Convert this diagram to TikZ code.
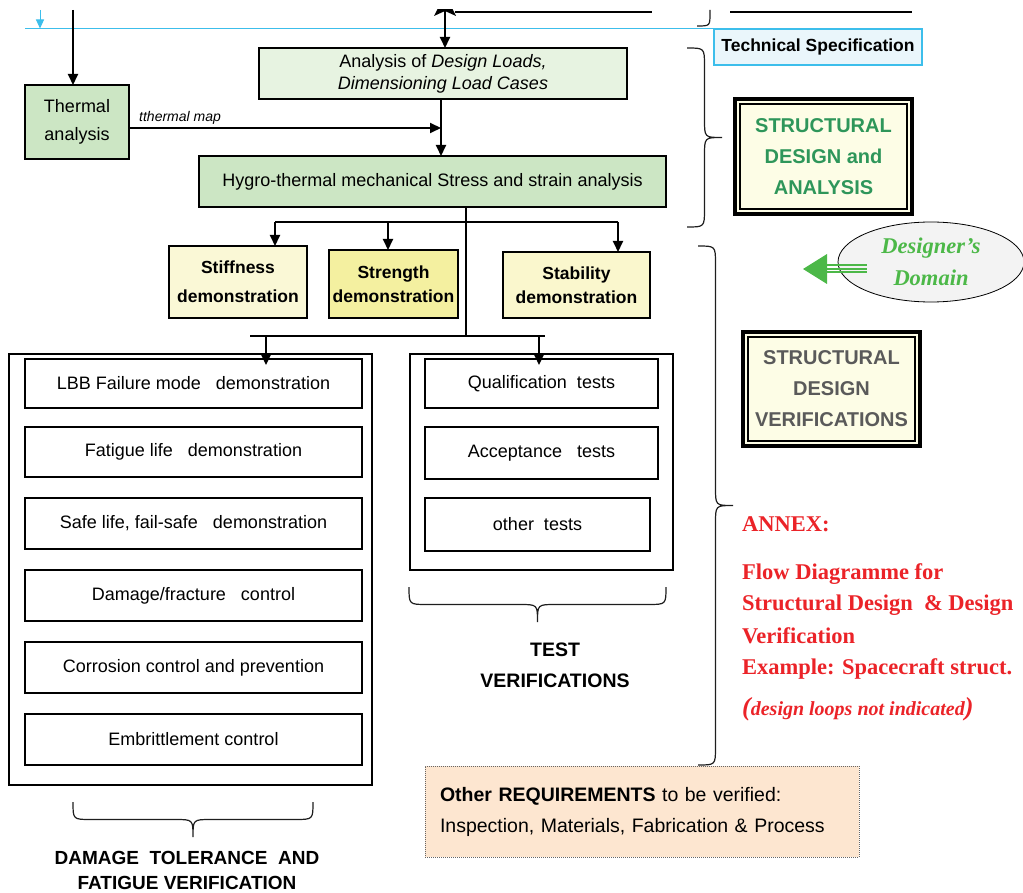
\documentclass[tikz,border=0pt]{standalone}
\usepackage{fontspec}
\setmainfont{Liberation Sans}
\newfontfamily\tnr{Liberation Serif}
\usetikzlibrary{arrows.meta,shapes.geometric,calc}
\definecolor{thermg}{RGB}{204,230,196}
\definecolor{analg}{RGB}{231,243,225}
\definecolor{stiffy}{RGB}{250,248,214}
\definecolor{streny}{RGB}{244,240,160}
\definecolor{staby}{RGB}{250,247,205}
\definecolor{techfill}{RGB}{234,246,251}
\definecolor{techcyan}{RGB}{60,190,235}
\definecolor{boxy}{RGB}{253,253,230}
\definecolor{sdagreen}{RGB}{46,150,90}
\definecolor{sdvgray}{RGB}{90,90,90}
\definecolor{desgreen}{RGB}{76,184,72}
\definecolor{ellfill}{RGB}{243,243,243}
\definecolor{annexred}{RGB}{235,35,40}
\definecolor{reqfill}{RGB}{253,230,208}
\definecolor{brc}{RGB}{30,30,30}
\newcommand{\RBrace}[4]{%
 \draw[bracestyle] (#1,#3) .. controls ({(#1+#2)/2},#3) .. ({(#1+#2)/2},{#3+18}) -- ({(#1+#2)/2},{(#3+#4)/2-18}) .. controls ({(#1+#2)/2},{(#3+#4)/2}) .. (#2,{(#3+#4)/2}) .. controls ({(#1+#2)/2},{(#3+#4)/2}) .. ({(#1+#2)/2},{(#3+#4)/2+18}) -- ({(#1+#2)/2},{#4-18}) .. controls ({(#1+#2)/2},#4) .. (#1,#4);}
\newcommand{\DBrace}[4]{%
 \draw[bracestyle] (#1,#3) .. controls (#1,{(#3+#4)/2}) .. ({#1+18},{(#3+#4)/2}) -- ({(#1+#2)/2-18},{(#3+#4)/2}) .. controls ({(#1+#2)/2},{(#3+#4)/2}) .. ({(#1+#2)/2},#4) .. controls ({(#1+#2)/2},{(#3+#4)/2}) .. ({(#1+#2)/2+18},{(#3+#4)/2}) -- ({#2-18},{(#3+#4)/2}) .. controls (#2,{(#3+#4)/2}) .. (#2,#3);}
\begin{document}
\begin{tikzpicture}[x=1pt,y=-1pt,
  box/.style={draw=black, line width=1.2pt, inner sep=0pt, outer sep=0pt, align=center},
  plain/.style={font=\fontsize{18}{22}\selectfont},
  demo/.style={box, font=\bfseries\fontsize{17.5}{24}\selectfont},
  listbox/.style={box, minimum width=337pt, font=\fontsize{18}{22}\selectfont},
  testbox/.style={box, font=\fontsize{18}{22}\selectfont},
  arr/.style={-{Triangle[length=11pt,width=10pt]}, line width=2pt},
  ln/.style={line width=1.4pt},
  bracestyle/.style={draw=brc, line width=1.2pt},
  dblbox/.style={draw=black, fill=boxy, line width=3.5pt, inner sep=0pt, outer sep=0pt, align=center, font=\bfseries\fontsize{20}{31}\selectfont},
  annex/.style={anchor=west, inner sep=0pt, text=annexred, font=\tnr\bfseries\fontsize{22.5}{26}\selectfont},
  caption/.style={align=center, inner sep=0pt, font=\bfseries\fontsize{19.5}{31}\selectfont},
]
\useasboundingbox (0,0) rectangle (1023,893);

% ---- top fragments
\coordinate (ca1) at (40,10);
\coordinate (ca2) at (40,28.5);
\draw[techcyan, line width=1pt, -{Triangle[length=9pt,width=8pt]}] (ca1) -- (ca2);
\coordinate (f1) at (455,12);
\coordinate (f2) at (652,12);
\draw[line width=1.3pt] (f1) -- (f2);
\coordinate (f3) at (730,12);
\coordinate (f4) at (912,12);
\draw[line width=1.3pt] (f3) -- (f4);
\begin{scope}
\clip (0,10) rectangle (1023,893);
\fill (434,16) -- (445,-6) -- (456,16) -- (445,11) -- cycle;
\end{scope}
\draw[bracestyle] (710,10) -- (710,13) .. controls (710,26) .. (697,26);

% ---- technical specification & cyan line
\node[draw=techcyan, line width=1.2pt, fill=techfill, minimum width=208pt, minimum height=36pt, inner sep=0pt, outer sep=0pt, font=\bfseries\fontsize{17.5}{20}\selectfont] (tech) at (818,47) {Technical Specification};
\coordinate (cl) at (25,29);
\draw[techcyan, line width=1pt] (cl) -- (tech.north west);

% ---- upper nodes
\node[box, fill=thermg, minimum width=104pt, minimum height=74pt, font=\fontsize{18}{28}\selectfont] (therm) at (77,122) {Thermal\\analysis};
\node[box, fill=analg, minimum width=368pt, minimum height=51pt, font=\fontsize{18}{22}\selectfont] (anal) at (443,73.5) {Analysis of \textit{Design Loads,}\\\textit{Dimensioning Load Cases}};
\node[box, fill=thermg, minimum width=467pt, minimum height=51pt, plain] (hygro) at (432.5,181.5) {Hygro-thermal mechanical Stress and strain analysis};

\node[demo, fill=stiffy, minimum width=138pt, minimum height=72pt, font=\bfseries\fontsize{17.5}{29}\selectfont] (stiff) at (238,282) {Stiffness\\demonstration};
\node[demo, fill=streny, minimum width=129pt, minimum height=68pt] (stren) at (393.5,284) {Strength\\demonstration};
\node[demo, fill=staby, minimum width=147pt, minimum height=66pt] (stab) at (576.5,285) {Stability\\demonstration};

% ---- left column
\node[box, minimum width=363pt, minimum height=431pt] (lout) at (190.5,569.5) {};
\node[listbox, minimum height=49pt] (lbb) at (193.5,383.5) {LBB Failure mode~~ demonstration};
\node[listbox, minimum height=50pt] (fat) at (193.5,452) {Fatigue life~~ demonstration};
\node[listbox, minimum height=51pt] (safe) at (193.5,523.5) {Safe life, fail-safe~~ demonstration};
\node[listbox, minimum height=51pt] (dam) at (193.5,595.5) {Damage/fracture~~ control};
\node[listbox, minimum height=51pt] (cor) at (193.5,667.5) {Corrosion control and prevention};
\node[listbox, minimum height=51pt] (emb) at (193.5,739.5) {Embrittlement control};

% ---- right column
\node[box, minimum width=263pt, minimum height=216pt] (rout) at (541.5,462) {};
\node[testbox, minimum width=233pt, minimum height=49pt] (qual) at (541.5,383.5) {Qualification~ tests};
\node[testbox, minimum width=233pt, minimum height=52pt] (acc) at (541.5,453) {Acceptance~~ tests};
\node[testbox, minimum width=225pt, minimum height=53pt] (oth) at (537.5,524.5) {other~ tests};

% ---- connectors
\coordinate (t0) at (73,10);
\draw[arr] (t0) -- (t0 |- therm.north);
\coordinate (t1) at (445,10);
\draw[arr] (t1) -- (t1 |- anal.north);
\coordinate (a1) at (441,99);
\draw[arr] (a1) -- (a1 |- hygro.north);
\coordinate (jt) at (441,128);
\draw[arr] ($(therm.east)+(0,6)$) -- (jt);
\node[anchor=base west, inner sep=0pt, font=\itshape\fontsize{14}{16}\selectfont] (tmap) at (139,122) {tthermal map};

\coordinate (h1) at (466,207);
\coordinate (h3) at (466,336);
\draw[ln] (h1) -- (h3);
\coordinate (s1) at (275,222);
\coordinate (s2) at (388,222);
\coordinate (s3) at (618,222);
\draw[ln] (s1) -- (s3);
\draw[arr] (s1) -- (s1 |- stiff.north);
\draw[arr] (s2) -- (s2 |- stren.north);
\draw[arr] (s3) -- (s3 |- stab.north);
\coordinate (b1) at (250,336);
\coordinate (b2) at (545,336);
\coordinate (bl) at (266,336);
\coordinate (br) at (539,336);
\draw[ln] (b1) -- (b2);
\draw[arr] (bl) -- ($(bl |- lbb.north)+(0,6)$);
\draw[arr] (br) -- ($(br |- qual.north)+(0,6)$);

% ---- braces and captions
\DBrace{409}{666}{587}{622}
\node[caption] (testcap) at (555,665.5) {TEST\\VERIFICATIONS};
\DBrace{73}{313}{802}{837}
\node[caption, font=\bfseries\fontsize{19}{25}\selectfont] (dtcap) at (187,870.5) {DAMAGE~ TOLERANCE~ AND\\FATIGUE VERIFICATION};
\RBrace{687}{722}{48}{227}
\RBrace{698}{733}{246}{765}

% ---- right side boxes
\node[dblbox, text=sdagreen, minimum width=177pt, minimum height=115pt] (sda) at (823.5,156.5) {STRUCTURAL\\DESIGN and\\ANALYSIS};
\draw[line width=1.5pt] ($(sda.north west)+(5,5)$) rectangle ($(sda.south east)+(-5,-5)$);
\node[dblbox, text=sdvgray, minimum width=177pt, minimum height=114pt] (sdv) at (831.5,389) {STRUCTURAL\\DESIGN\\VERIFICATIONS};
\draw[line width=1.5pt] ($(sdv.north west)+(5,5)$) rectangle ($(sdv.south east)+(-5,-5)$);

\node[ellipse, draw=black, line width=0.8pt, fill=ellfill, minimum width=186pt, minimum height=80pt, inner sep=0pt, align=center, text=desgreen, font=\tnr\bfseries\itshape\fontsize{22.5}{32}\selectfont] (dd) at (931,262) {Designer’s\\Domain};
\coordinate (gtip) at (803,269);
\fill[desgreen] (gtip) -- (827,254) -- (827,284) -- cycle;
\draw[desgreen, line width=2pt] (825,265.5) -- (867,265.5);
\draw[desgreen, line width=2pt] (825,269) -- (867,269);
\draw[desgreen, line width=2pt] (825,272.5) -- (867,272.5);

% ---- annex text
\node[annex] (an1) at (742,524) {ANNEX:};
\node[annex] (an2) at (742,574) {Flow Diagramme for};
\node[annex] (an3) at (742,605) {Structural Design~ \& Design};
\node[annex] (an4) at (742,636) {Verification};
\node[annex] (an5) at (742,669) {Example: Spacecraft struct.};
\node[annex, font=\tnr\bfseries\itshape\fontsize{20}{24}\selectfont] (an6) at (742,709) {{\fontsize{26}{26}\selectfont(}design loops not indicated{\fontsize{26}{26}\selectfont)}};

% ---- other requirements
\node[draw=black!60, densely dotted, line width=1pt, fill=reqfill, minimum width=434pt, minimum height=91pt, inner sep=0pt, outer sep=0pt, text width=404pt, align=left, font=\fontsize{19.5}{31}\selectfont] (req) at (642,811.5) {\textbf{Other REQUIREMENTS} to be verified:\\Inspection, Materials, Fabrication \& Process};
\end{tikzpicture}
\end{document}
